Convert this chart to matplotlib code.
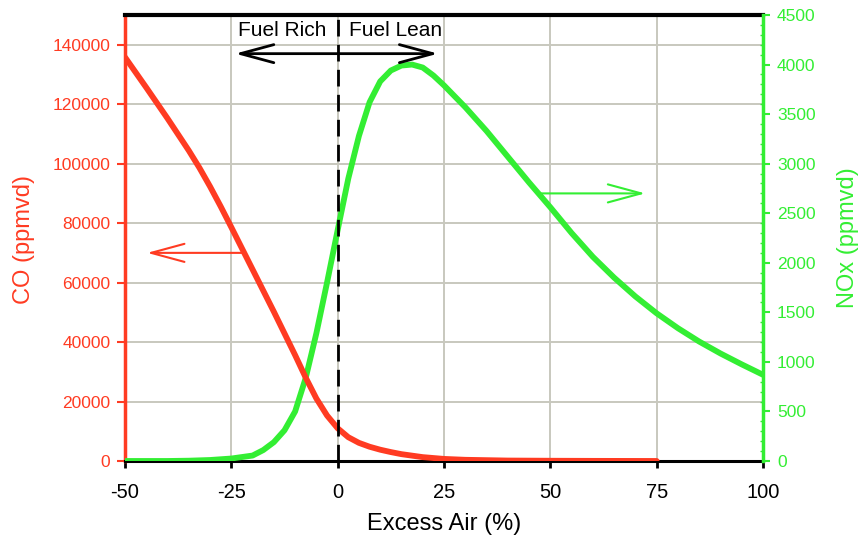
import matplotlib
matplotlib.use("Agg")
import matplotlib.pyplot as plt
from matplotlib.ticker import MultipleLocator

plt.rcParams['font.family'] = ['Liberation Sans', 'DejaVu Sans']

# ---- data ----
co_x = [-50, -45, -40, -35, -32.5, -30, -27.5, -25, -20, -15, -10, -7.5, -5, -2.5,
        0, 2.5, 5, 7.5, 10, 12.5, 15, 20, 25, 30, 40, 50, 60, 75]
co_y = [135800, 125600, 115200, 104400, 98600, 92300, 85600, 78600, 64400, 50200,
        35600, 28000, 21000, 15300, 11000, 8000, 6100, 4800, 3800, 3000, 2300,
        1300, 700, 400, 150, 80, 40, 0]

nox_x = [-50, -40, -35, -30, -25, -20, -17.5, -15, -12.5, -10, -7.5, -5, -2.5, 0,
         2.5, 5, 7.5, 10, 12.5, 15, 17.5, 20, 22.5, 25, 30, 35, 40, 45, 50, 55, 60,
         65, 70, 75, 80, 85, 90, 95, 100]
nox_y = [0, 0, 3, 10, 25, 55, 110, 190, 310, 500, 840, 1290, 1800, 2330,
         2850, 3280, 3620, 3830, 3940, 3990, 4000, 3970, 3890, 3790, 3570, 3330,
         3070, 2810, 2560, 2300, 2060, 1850, 1660, 1490, 1340, 1205, 1085, 975, 870]

x_ticks = [-50, -25, 0, 25, 50, 75, 100]
co_ticks = [0, 20000, 40000, 60000, 80000, 100000, 120000, 140000]
nox_ticks = [0, 500, 1000, 1500, 2000, 2500, 3000, 3500, 4000, 4500]

RED = '#ff3b22'
GREEN = '#33ee33'
GRID = '#c8c8be'

fig = plt.figure(figsize=(8.64, 5.48), dpi=100)
ax = fig.add_axes([125/864, 1-461/548, (763-125)/864, (461-15)/548])
ax2 = ax.twinx()

ax.set_xlim(-50, 100)
ax.set_ylim(0, 150000)
ax2.set_ylim(0, 4500)

ax.set_xticks(x_ticks)
ax.set_xticklabels([str(t) for t in x_ticks])
ax.set_yticks(co_ticks)
ax.set_yticklabels([str(t) for t in co_ticks])
ax2.set_yticks(nox_ticks)
ax2.set_yticklabels([str(t) for t in nox_ticks])
ax2.yaxis.set_minor_locator(MultipleLocator(100))

ax.grid(True, color=GRID, linewidth=1.4)
ax.set_axisbelow(True)

# spines
ax.spines['top'].set_color('black'); ax.spines['top'].set_linewidth(3)
ax.spines['bottom'].set_color('black'); ax.spines['bottom'].set_linewidth(2.2)
ax.spines['left'].set_color(RED); ax.spines['left'].set_linewidth(2.5)
ax.spines['right'].set_visible(False)
ax2.spines['left'].set_visible(False)
ax2.spines['top'].set_visible(False)
ax2.spines['bottom'].set_visible(False)
ax2.spines['right'].set_color(GREEN); ax2.spines['right'].set_linewidth(2.5)

ax.tick_params(axis='x', direction='out', length=5, width=2, colors='black',
               labelsize=14.5, pad=11)
ax.tick_params(axis='y', direction='out', length=5.5, width=1.5, colors=RED,
               labelsize=12.5, pad=5)
ax2.tick_params(axis='y', which='major', direction='out', length=5, width=1.5,
                colors=GREEN, labelsize=12.5, pad=5)
ax2.tick_params(axis='y', which='minor', direction='in', length=2.5, width=1,
                colors=GREEN)

# curves
ax2.plot(nox_x, nox_y, color=GREEN, linewidth=4.2, solid_capstyle='round',
         solid_joinstyle='round', zorder=3)
ax2.plot(co_x, co_y, color=RED, linewidth=4.2, solid_capstyle='round',
         solid_joinstyle='round', transform=ax.transData, zorder=4)
ax2.set_ylim(0, 4500)
ax2.set_xlim(-50, 100)

# stoichiometric line
ax2.axvline(0, color='black', linewidth=2, linestyle=(0, (6, 3)), zorder=5)

# arrows
def arrow(a, x0, x1, y, color, lw):
    a.annotate('', xy=(x1, y), xytext=(x0, y), xycoords='data', textcoords='data',
               arrowprops=dict(arrowstyle='->,head_length=2.4,head_width=0.65',
                               color=color, lw=lw, shrinkA=0, shrinkB=0,
                               mutation_scale=10), zorder=6)

arrow(ax2, -21.8, -44.8, 70000 * 4500 / 150000, RED, 1.5)
arrow(ax2, 47.6, 72.3, 2700, GREEN, 1.5)
ax2.annotate('', xy=(23.6, 137000 * 4500 / 150000), xytext=(-24.1, 137000 * 4500 / 150000),
             arrowprops=dict(arrowstyle='<->,head_length=2.4,head_width=0.65',
                             color='black', lw=2, shrinkA=0, shrinkB=0,
                             mutation_scale=10), zorder=6)

ax2.text(-13.1, 144800 * 4500 / 150000, 'Fuel Rich', ha='center', va='center',
         fontsize=15, color='black', zorder=7)
ax2.text(13.5, 144800 * 4500 / 150000, 'Fuel Lean', ha='center', va='center',
         fontsize=15, color='black', zorder=7)

# labels
fig.text(444/864, 1-524/548, 'Excess Air (%)', ha='center', va='center', fontsize=17)
fig.text(24/864, 1-240/548, 'CO (ppmvd)', ha='center', va='center', fontsize=17,
         rotation=90, color=RED)
fig.text(848/864, 1-238/548, 'NOx (ppmvd)', ha='center', va='center', fontsize=17,
         rotation=90, color=GREEN)

fig.savefig('out.png', dpi=100)
